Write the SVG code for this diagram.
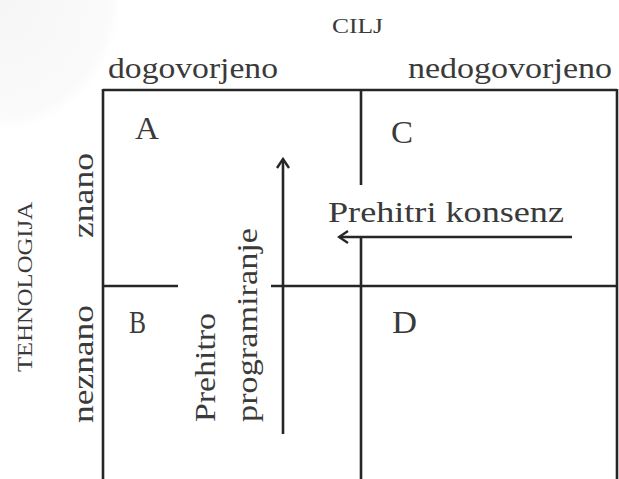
<svg xmlns="http://www.w3.org/2000/svg" width="619" height="479" viewBox="0 0 619 479">
  <defs>
    <style>
      .ln { stroke: #262626; stroke-width: 2.6; fill: none; stroke-linecap: butt; }
      .t { font-family: "Liberation Serif", "Times New Roman", serif; fill: #3a3a3a; }
      .lbl { font-size: 30px; }
      .cell { font-size: 32px; }
      .cap { font-size: 21px; }
    </style>
    <marker id="arrowOpen" viewBox="0 0 14 14" refX="12" refY="7" markerWidth="14" markerHeight="14" markerUnits="userSpaceOnUse" orient="auto">
      <path d="M3,1 L12,7 L3,13" fill="none" stroke="#262626" stroke-width="2.4"/>
    </marker>
    <radialGradient id="shadeTL" cx="0" cy="0" r="1">
      <stop offset="0.0" stop-color="#f6f6f6"/>
      <stop offset="0.9" stop-color="#fafafa"/>
      <stop offset="1" stop-color="#ffffff"/>
    </radialGradient>
  </defs>

  <rect width="619" height="479" fill="#ffffff"/>
  <!-- faint corner shading -->
  <path d="M0,0 L120,0 A120,130 0 0 1 0,130 Z" fill="url(#shadeTL)"/>

  <!-- headings -->
  <g id="goal-heading">
    <text class="t cap" x="332" y="33" textLength="51" lengthAdjust="spacingAndGlyphs">CILJ</text>
  </g>
  <g id="col-agreed">
    <text class="t lbl" x="108" y="78" textLength="170" lengthAdjust="spacingAndGlyphs">dogovorjeno</text>
  </g>
  <g id="col-not-agreed">
    <text class="t lbl" x="408" y="78" textLength="204" lengthAdjust="spacingAndGlyphs">nedogovorjeno</text>
  </g>
  <g id="tech-heading">
    <text class="t cap" transform="translate(32,372) rotate(-90)" x="0" y="0" textLength="170" lengthAdjust="spacingAndGlyphs">TEHNOLOGIJA</text>
  </g>
  <g id="row-known">
    <text class="t lbl" transform="translate(93,238) rotate(-90)" x="0" y="0" font-size="34" textLength="85" lengthAdjust="spacingAndGlyphs">znano</text>
  </g>
  <g id="row-unknown">
    <text class="t lbl" transform="translate(93,423) rotate(-90)" x="0" y="0" font-size="34" textLength="118" lengthAdjust="spacingAndGlyphs">neznano</text>
  </g>

  <!-- quadrant letters -->
  <g id="cell-A"><text class="t cell" x="135" y="139" textLength="24" lengthAdjust="spacingAndGlyphs">A</text></g>
  <g id="cell-B"><text class="t cell" x="129" y="333" textLength="17" lengthAdjust="spacingAndGlyphs">B</text></g>
  <g id="cell-C"><text class="t cell" x="391" y="143" textLength="22" lengthAdjust="spacingAndGlyphs">C</text></g>
  <g id="cell-D"><text class="t cell" x="392" y="333" textLength="25" lengthAdjust="spacingAndGlyphs">D</text></g>

  <!-- arrow labels -->
  <g id="label-consensus">
    <text class="t lbl" x="328" y="222" textLength="236" lengthAdjust="spacingAndGlyphs">Prehitri konsenz</text>
  </g>
  <g id="label-programming">
    <text class="t lbl" transform="translate(215,422) rotate(-90)" x="0" y="0" font-size="32" textLength="109" lengthAdjust="spacingAndGlyphs">Prehitro</text>
    <text class="t lbl" transform="translate(257,422) rotate(-90)" x="0" y="0" font-size="32" textLength="194" lengthAdjust="spacingAndGlyphs">programiranje</text>
  </g>

  <!-- grid and arrows -->
  <g id="connectors">
    <path class="ln" d="M103,90 H617"/>
    <path class="ln" d="M103,89 V479"/>
    <path class="ln" d="M617,89 V479"/>
    <path class="ln" d="M361,90 V185"/>
    <path class="ln" d="M361,237 V479"/>
    <path class="ln" d="M103,286 H178"/>
    <path class="ln" d="M271,286 H617"/>
    <path class="ln" d="M283,434 V159" marker-end="url(#arrowOpen)"/>
    <path class="ln" d="M572,237 H339" marker-end="url(#arrowOpen)"/>
  </g>
</svg>
